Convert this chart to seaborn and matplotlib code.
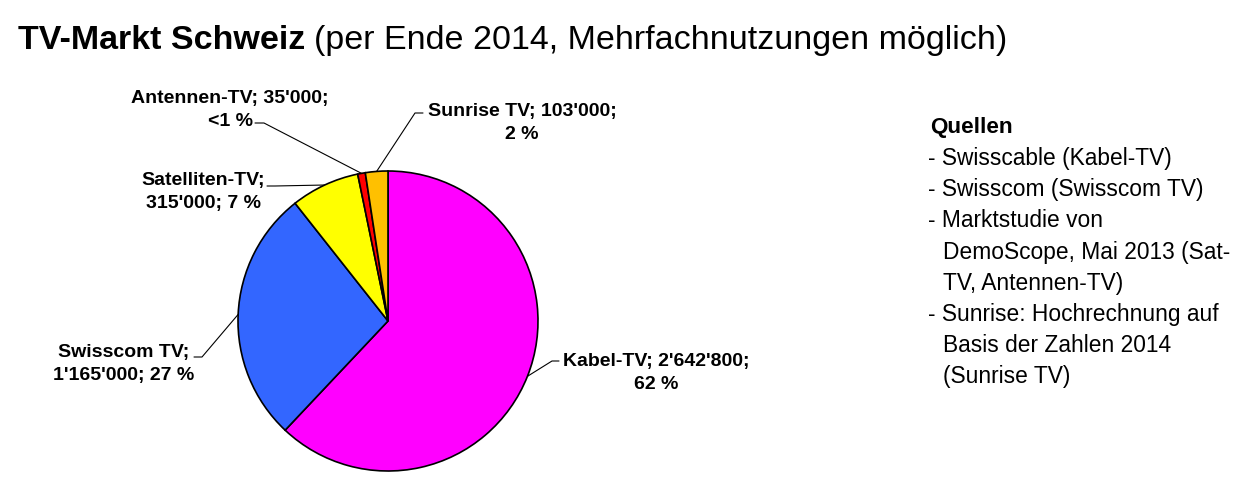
import matplotlib
matplotlib.use("Agg")
import matplotlib.pyplot as plt
import numpy as np
import seaborn as sns

# Data
categories = ["Kabel-TV", "Swisscom TV", "Satelliten-TV", "Antennen-TV", "Sunrise TV"]
subscribers = [2642800, 1165000, 315000, 35000, 103000]
pct_labels = ["62 %", "27 %", "7 %", "<1 %", "2 %"]
value_labels = ["2'642'800", "1'165'000", "315'000", "35'000", "103'000"]
slice_colors = ["#FF00FF", "#3366FF", "#FFFF00", "#FF0000", "#FFC000"]

sources = [
    ("- Swisscable (Kabel-TV)", False),
    ("- Swisscom (Swisscom TV)", False),
    ("- Marktstudie von", False),
    ("DemoScope, Mai 2013 (Sat-", True),
    ("TV, Antennen-TV)", True),
    ("- Sunrise: Hochrechnung auf", False),
    ("Basis der Zahlen 2014", True),
    ("(Sunrise TV)", True),
]

sns.set_theme(style="white")
plt.rcParams["font.family"] = ["Liberation Sans", "DejaVu Sans"]
plt.rcParams["text.color"] = "black"

W, H = 1246, 488
CX, CY, R = 388, 321, 150  # pie centre / radius in pixels

fig = plt.figure(figsize=(W / 100, H / 100), dpi=100)
ax = fig.add_axes([0, 0, 1, 1])


def px(x, y):
    """pixel coords (top-left origin) -> data coords"""
    return (x - CX) / R, (CY - y) / R


wedges, _ = ax.pie(
    subscribers,
    colors=slice_colors,
    startangle=90,
    counterclock=False,
    radius=1,
    center=(0, 0),
    wedgeprops=dict(edgecolor="black", linewidth=1.2),
)
ax.set_xlim(-CX / R, (W - CX) / R)
ax.set_ylim((CY - H) / R, CY / R)
ax.axis("off")

# label layout: text centre, leader start, elbow length (pixels)
layout = {
    "Kabel-TV": dict(text=(656, 373), lines=("Kabel-TV; {v};", "{p}"), start=(559, 361), elbow=-7),
    "Swisscom TV": dict(text=(124, 364), lines=("Swisscom TV;", "{v}; {p}"), start=(194, 357), elbow=8),
    "Satelliten-TV": dict(text=(203, 192), lines=("Satelliten-TV;", "{v}; {p}"), start=(267, 186), elbow=8),
    "Antennen-TV": dict(text=(230, 110), lines=("Antennen-TV; {v};", "{p}"), start=(255, 123), elbow=9),
    "Sunrise TV": dict(text=(522, 123), lines=("Sunrise TV; {v};", "{p}"), start=(423, 113), elbow=-8),
}

for wedge, cat, val, pct in zip(wedges, categories, value_labels, pct_labels):
    cfg = layout[cat]
    mid = np.deg2rad((wedge.theta1 + wedge.theta2) / 2)
    wx, wy = np.cos(mid), np.sin(mid)
    sx, sy = px(*cfg["start"])
    ex, ey = px(cfg["start"][0] + cfg["elbow"], cfg["start"][1])
    ax.plot([sx, ex, wx], [sy, ey, wy], color="black", lw=0.8, zorder=0.5)
    txt = "\n".join(l.format(v=val, p=pct) for l in cfg["lines"])
    tx, ty = px(*cfg["text"])
    ax.text(tx, ty, txt, ha="center", va="center", fontsize=14,
            fontweight="bold", linespacing=1.4, color="black")

# Title
t1 = fig.text(18 / W, 1 - 49 / H, "TV-Markt Schweiz", fontsize=24.5, fontweight="bold",
              va="baseline", ha="left")
fig.canvas.draw()
bb = t1.get_window_extent()
fig.text((bb.x1 + 9) / W, 1 - 49 / H, "(per Ende 2014, Mehrfachnutzungen möglich)",
         fontsize=24.5, va="baseline", ha="left")

# Sources block
fig.text(930 / W, 1 - 133 / H, "Quellen", fontsize=16.2, fontweight="bold",
         va="baseline", ha="left")
for i, (line, indent) in enumerate(sources):
    x = 943 if indent else 928
    y = 165 + i * 31.2
    fig.text(x / W, 1 - y / H, line, fontsize=16.4, va="baseline", ha="left")

fig.savefig("out.png", dpi=100)
